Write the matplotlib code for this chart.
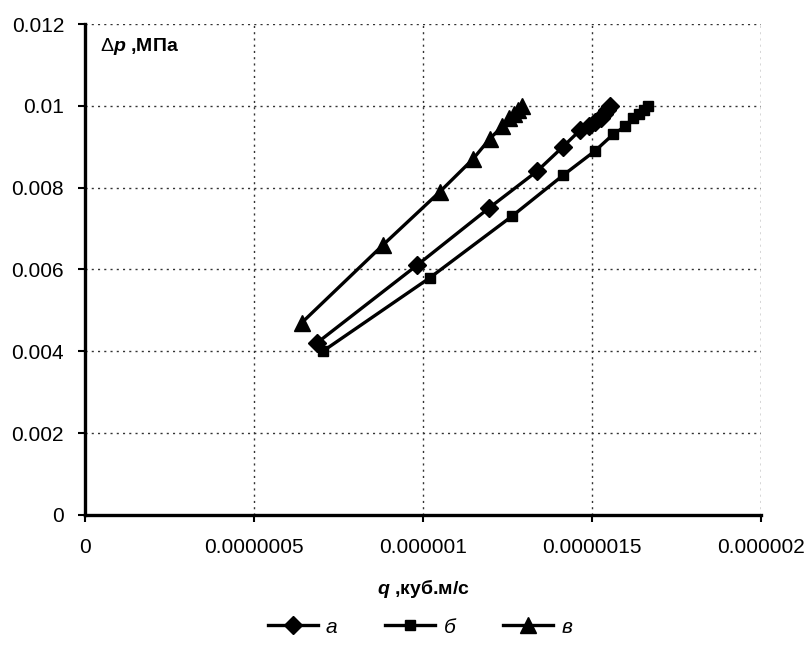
import numpy as np
import matplotlib.pyplot as plt

plt.rcParams['font.family'] = ['Liberation Sans', 'DejaVu Sans']
plt.rcParams['mathtext.fontset'] = 'custom'
plt.rcParams['mathtext.rm'] = 'Liberation Sans'
plt.rcParams['mathtext.it'] = 'Liberation Sans:italic:bold'

# flow rate q, 1e-6 m3/s ; pressure drop dp, MPa
qa = [0.686, 0.982, 1.195, 1.337, 1.414, 1.464, 1.49, 1.51, 1.525, 1.535, 1.545, 1.553]
pa = [0.0042, 0.0061, 0.0075, 0.0084, 0.0090, 0.0094, 0.0095, 0.0096, 0.0097, 0.0098, 0.0099, 0.0100]
qb = [0.704, 1.021, 1.263, 1.414, 1.509, 1.562, 1.598, 1.62, 1.64, 1.655, 1.666]
pb = [0.0040, 0.0058, 0.0073, 0.0083, 0.0089, 0.0093, 0.0095, 0.0097, 0.0098, 0.0099, 0.0100]
qc = [0.642, 0.882, 1.050, 1.148, 1.198, 1.235, 1.255, 1.27, 1.28, 1.293]
pc = [0.0047, 0.0066, 0.0079, 0.0087, 0.0092, 0.0095, 0.0097, 0.0098, 0.0099, 0.0100]

xticks = [0, 0.5e-6, 1e-6, 1.5e-6, 2e-6]
xticklabels = ['0', '0.0000005', '0.000001', '0.0000015', '0.000002']
yticks = [0, 0.002, 0.004, 0.006, 0.008, 0.01, 0.012]
yticklabels = ['0', '0.002', '0.004', '0.006', '0.008', '0.01', '0.012']

fig = plt.figure(figsize=(8.08, 6.5), dpi=100)
ax = fig.add_axes([0.105, 0.208, 0.837, 0.755])

ax.plot(np.array(qa) * 1e-6, pa, 'k-', marker='D', ms=9, lw=2.4, label='а')
ax.plot(np.array(qb) * 1e-6, pb, 'k-', marker='s', ms=7.5, lw=2.4, label='б')
ax.plot(np.array(qc) * 1e-6, pc, 'k-', marker='^', ms=11, lw=2.4, label='в')

ax.set_xlim(0, 2e-6)
ax.set_ylim(0, 0.012)
ax.set_xticks(xticks)
ax.set_xticklabels(xticklabels, fontsize=15)
ax.set_yticks(yticks)
ax.set_yticklabels(yticklabels, fontsize=15)
ax.tick_params(direction='out', length=5, width=1.5)
ax.tick_params(axis='y', pad=10)
ax.tick_params(axis='x', pad=12)
ax.grid(True, color='#333333', linestyle=(0, (1.5, 3)), lw=1)
for s in ['top', 'right']:
    ax.spines[s].set_visible(False)
for s in ['left', 'bottom']:
    ax.spines[s].set_linewidth(2.4)

ax.set_xlabel(r'$q$ ,куб.м/с', fontsize=14, fontweight='bold', labelpad=14)
ax.text(0.022, 0.955, r'$\Delta p$ ,МПа', transform=ax.transAxes, fontsize=14,
        fontweight='bold', ha='left', va='center')

leg = fig.legend(loc='center', bbox_to_anchor=(0.52, 0.035), ncol=3, frameon=False,
                 handlelength=2.4, columnspacing=2.3, handletextpad=0.4,
                 prop={'style': 'italic', 'size': 15})

fig.savefig('out.png', dpi=100)
